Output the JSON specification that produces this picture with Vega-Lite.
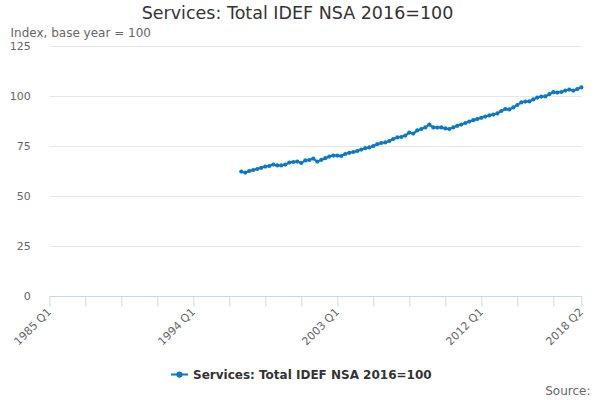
{
  "$schema": "https://vega.github.io/schema/vega-lite/v6.json",
  "autosize": "none",
  "width": 532,
  "height": 250,
  "padding": {"left": 49.3, "top": 46, "right": 18.7, "bottom": 104},
  "background": "white",
  "config": {
    "font": "DejaVu Sans",
    "view": {"stroke": null}
  },
  "title": {
    "text": "Services: Total IDEF NSA 2016=100",
    "fontSize": 17.5,
    "fontWeight": "normal",
    "color": "#333333",
    "anchor": "middle",
    "frame": "group",
    "dx": -17.8
  },
  "data": {
    "values": [
      {"quarter": "1997-01-01T00:00:00", "value": 62.2},
      {"quarter": "1997-04-01T00:00:00", "value": 61.7},
      {"quarter": "1997-07-01T00:00:00", "value": 62.5},
      {"quarter": "1997-10-01T00:00:00", "value": 63.0},
      {"quarter": "1998-01-01T00:00:00", "value": 63.5},
      {"quarter": "1998-04-01T00:00:00", "value": 64.1},
      {"quarter": "1998-07-01T00:00:00", "value": 64.7},
      {"quarter": "1998-10-01T00:00:00", "value": 65.0},
      {"quarter": "1999-01-01T00:00:00", "value": 65.7},
      {"quarter": "1999-04-01T00:00:00", "value": 65.3},
      {"quarter": "1999-07-01T00:00:00", "value": 65.3},
      {"quarter": "1999-10-01T00:00:00", "value": 65.7},
      {"quarter": "2000-01-01T00:00:00", "value": 66.7},
      {"quarter": "2000-04-01T00:00:00", "value": 67.0},
      {"quarter": "2000-07-01T00:00:00", "value": 67.2},
      {"quarter": "2000-10-01T00:00:00", "value": 66.5},
      {"quarter": "2001-01-01T00:00:00", "value": 67.8},
      {"quarter": "2001-04-01T00:00:00", "value": 68.0},
      {"quarter": "2001-07-01T00:00:00", "value": 68.7},
      {"quarter": "2001-10-01T00:00:00", "value": 67.2},
      {"quarter": "2002-01-01T00:00:00", "value": 68.1},
      {"quarter": "2002-04-01T00:00:00", "value": 68.9},
      {"quarter": "2002-07-01T00:00:00", "value": 69.7},
      {"quarter": "2002-10-01T00:00:00", "value": 70.2},
      {"quarter": "2003-01-01T00:00:00", "value": 70.2},
      {"quarter": "2003-04-01T00:00:00", "value": 70.0},
      {"quarter": "2003-07-01T00:00:00", "value": 71.0},
      {"quarter": "2003-10-01T00:00:00", "value": 71.6},
      {"quarter": "2004-01-01T00:00:00", "value": 72.0},
      {"quarter": "2004-04-01T00:00:00", "value": 72.5},
      {"quarter": "2004-07-01T00:00:00", "value": 73.2},
      {"quarter": "2004-10-01T00:00:00", "value": 73.9},
      {"quarter": "2005-01-01T00:00:00", "value": 74.3},
      {"quarter": "2005-04-01T00:00:00", "value": 75.0},
      {"quarter": "2005-07-01T00:00:00", "value": 75.9},
      {"quarter": "2005-10-01T00:00:00", "value": 76.5},
      {"quarter": "2006-01-01T00:00:00", "value": 76.8},
      {"quarter": "2006-04-01T00:00:00", "value": 77.5},
      {"quarter": "2006-07-01T00:00:00", "value": 78.5},
      {"quarter": "2006-10-01T00:00:00", "value": 79.3},
      {"quarter": "2007-01-01T00:00:00", "value": 79.5},
      {"quarter": "2007-04-01T00:00:00", "value": 80.2},
      {"quarter": "2007-07-01T00:00:00", "value": 81.7},
      {"quarter": "2007-10-01T00:00:00", "value": 81.2},
      {"quarter": "2008-01-01T00:00:00", "value": 82.8},
      {"quarter": "2008-04-01T00:00:00", "value": 83.5},
      {"quarter": "2008-07-01T00:00:00", "value": 84.3},
      {"quarter": "2008-10-01T00:00:00", "value": 85.7},
      {"quarter": "2009-01-01T00:00:00", "value": 84.3},
      {"quarter": "2009-04-01T00:00:00", "value": 84.2},
      {"quarter": "2009-07-01T00:00:00", "value": 84.3},
      {"quarter": "2009-10-01T00:00:00", "value": 83.8},
      {"quarter": "2010-01-01T00:00:00", "value": 83.5},
      {"quarter": "2010-04-01T00:00:00", "value": 84.3},
      {"quarter": "2010-07-01T00:00:00", "value": 85.1},
      {"quarter": "2010-10-01T00:00:00", "value": 85.7},
      {"quarter": "2011-01-01T00:00:00", "value": 86.5},
      {"quarter": "2011-04-01T00:00:00", "value": 87.2},
      {"quarter": "2011-07-01T00:00:00", "value": 87.9},
      {"quarter": "2011-10-01T00:00:00", "value": 88.5},
      {"quarter": "2012-01-01T00:00:00", "value": 89.1},
      {"quarter": "2012-04-01T00:00:00", "value": 89.7},
      {"quarter": "2012-07-01T00:00:00", "value": 90.3},
      {"quarter": "2012-10-01T00:00:00", "value": 90.7},
      {"quarter": "2013-01-01T00:00:00", "value": 91.3},
      {"quarter": "2013-04-01T00:00:00", "value": 92.5},
      {"quarter": "2013-07-01T00:00:00", "value": 93.5},
      {"quarter": "2013-10-01T00:00:00", "value": 93.3},
      {"quarter": "2014-01-01T00:00:00", "value": 94.3},
      {"quarter": "2014-04-01T00:00:00", "value": 95.5},
      {"quarter": "2014-07-01T00:00:00", "value": 96.8},
      {"quarter": "2014-10-01T00:00:00", "value": 97.2},
      {"quarter": "2015-01-01T00:00:00", "value": 97.3},
      {"quarter": "2015-04-01T00:00:00", "value": 98.3},
      {"quarter": "2015-07-01T00:00:00", "value": 99.2},
      {"quarter": "2015-10-01T00:00:00", "value": 99.7},
      {"quarter": "2016-01-01T00:00:00", "value": 99.8},
      {"quarter": "2016-04-01T00:00:00", "value": 100.9},
      {"quarter": "2016-07-01T00:00:00", "value": 101.9},
      {"quarter": "2016-10-01T00:00:00", "value": 101.7},
      {"quarter": "2017-01-01T00:00:00", "value": 102.0},
      {"quarter": "2017-04-01T00:00:00", "value": 102.7},
      {"quarter": "2017-07-01T00:00:00", "value": 103.2},
      {"quarter": "2017-10-01T00:00:00", "value": 102.7},
      {"quarter": "2018-01-01T00:00:00", "value": 103.5},
      {"quarter": "2018-04-01T00:00:00", "value": 104.3}
    ]
  },
  "mark": {
    "type": "line",
    "strokeWidth": 2,
    "point": {"filled": true, "size": 18}
  },
  "encoding": {
    "x": {
      "field": "quarter",
      "type": "temporal",
      "scale": {
        "domain": [{"year": 1985, "quarter": 1}, {"year": 2018, "quarter": 2}],
        "nice": false
      },
      "axis": {
        "title": "Source:",
        "titleX": 540.7,
        "titleY": 98,
        "titleAngle": 0,
        "titleAlign": "right",
        "titleBaseline": "alphabetic",
        "titleFontSize": 12,
        "titleFontWeight": "normal",
        "titleColor": "#666666",
        "values": [
          {"year": 1985, "quarter": 1}, {"year": 1987, "quarter": 2},
          {"year": 1989, "quarter": 3}, {"year": 1991, "quarter": 4},
          {"year": 1994, "quarter": 1}, {"year": 1996, "quarter": 2},
          {"year": 1998, "quarter": 3}, {"year": 2000, "quarter": 4},
          {"year": 2003, "quarter": 1}, {"year": 2005, "quarter": 2},
          {"year": 2007, "quarter": 3}, {"year": 2009, "quarter": 4},
          {"year": 2012, "quarter": 1}, {"year": 2014, "quarter": 2},
          {"year": 2016, "quarter": 3}, {"year": 2018, "quarter": 2}
        ],
        "labelExpr": "(quarter(datum.value) == 1 && indexof([1985, 1994, 2003, 2012], year(datum.value)) >= 0) || year(datum.value) == 2018 ? timeFormat(datum.value, '%Y') + ' Q' + quarter(datum.value) : ''",
        "labelAngle": -45,
        "labelAlign": "right",
        "labelBaseline": "middle",
        "labelPadding": 4,
        "labelFontSize": 11,
        "labelColor": "#666666",
        "labelOverlap": false,
        "labelFlush": false,
        "labelBound": false,
        "grid": false,
        "domainColor": "#ccd6eb",
        "tickColor": "#ccd6eb",
        "tickSize": 10
      }
    },
    "y": {
      "field": "value",
      "type": "quantitative",
      "scale": {"domain": [0, 125], "nice": false},
      "axis": {
        "title": "Index, base year = 100",
        "titleX": -39.3,
        "titleY": -9.3,
        "titleAngle": 0,
        "titleAlign": "left",
        "titleBaseline": "alphabetic",
        "titleFontSize": 12,
        "titleFontWeight": "normal",
        "titleColor": "#666666",
        "values": [0, 25, 50, 75, 100, 125],
        "labelFontSize": 11,
        "labelColor": "#666666",
        "labelPadding": 19,
        "domain": false,
        "ticks": false,
        "gridColor": "#e6e6e6"
      }
    },
    "color": {
      "datum": "Services: Total IDEF NSA 2016=100",
      "scale": {"range": ["#0b79c4"]},
      "legend": {
        "title": null,
        "orient": "none",
        "legendX": 120.7,
        "legendY": 319,
        "padding": 0,
        "symbolType": "M-1,0H1M-0.25,0A0.25,0.25,0,1,0,0.25,0A0.25,0.25,0,1,0,-0.25,0Z",
        "symbolSize": 289,
        "symbolStrokeWidth": 2,
        "symbolFillColor": "#0b79c4",
        "symbolStrokeColor": "#0b79c4",
        "labelFontSize": 12,
        "labelFontWeight": "bold",
        "labelColor": "#333333",
        "labelOffset": 4,
        "labelLimit": 0
      }
    }
  }
}
